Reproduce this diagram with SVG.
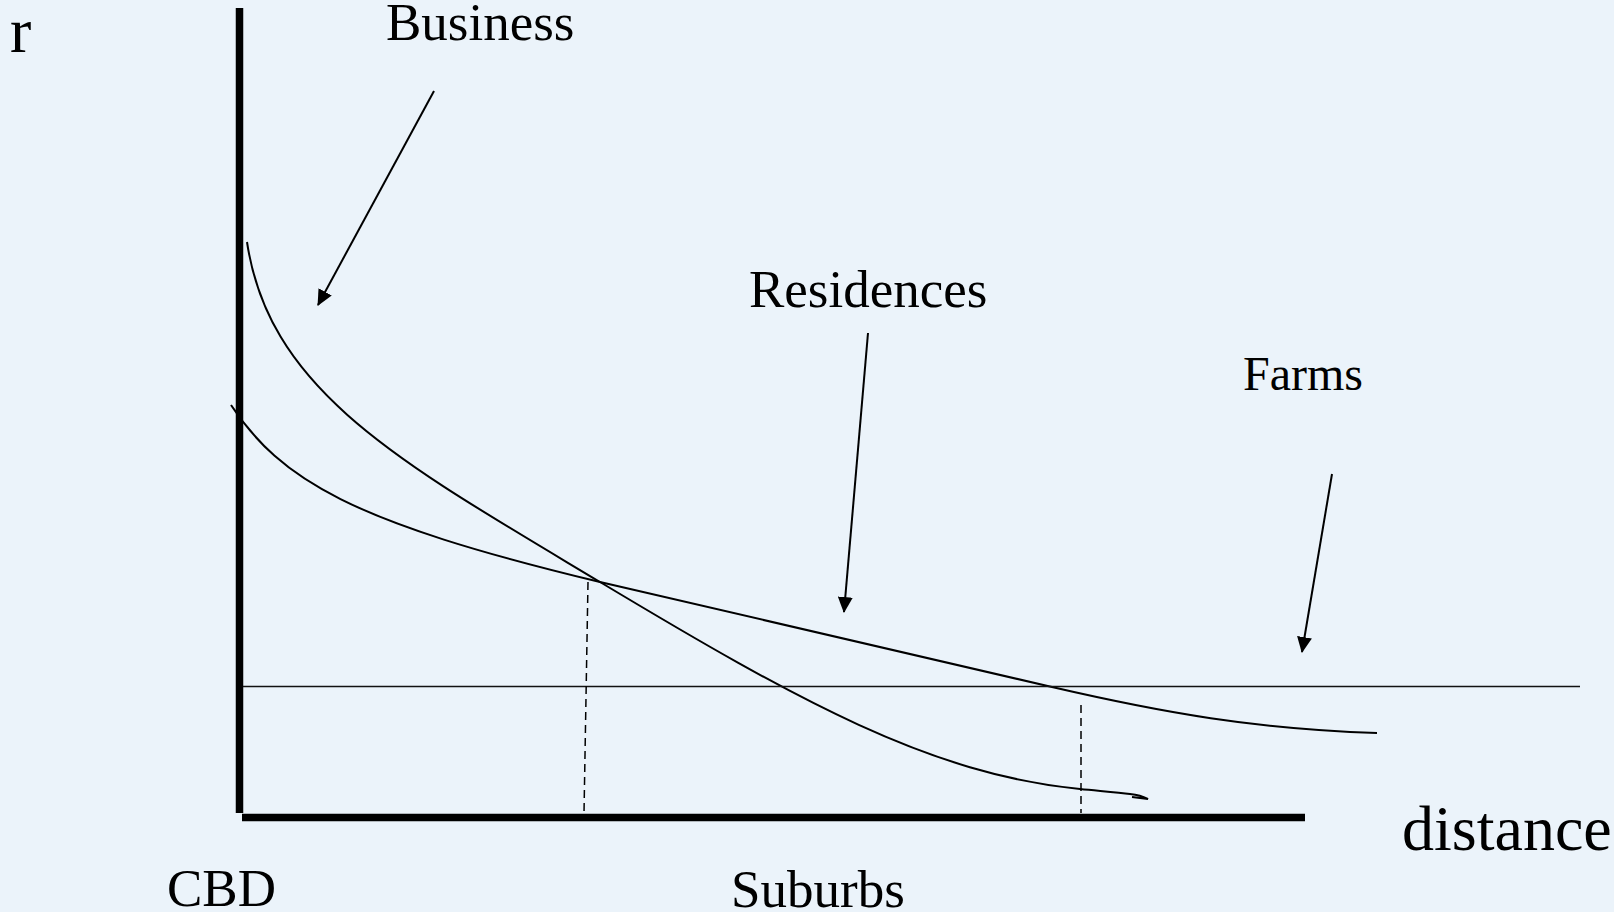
<svg xmlns="http://www.w3.org/2000/svg" width="1614" height="912" viewBox="0 0 1614 912">
<style>
.t{font-family:"Liberation Serif","Times New Roman",serif;fill:#000}
.curve{fill:none;stroke:#000;stroke-width:2}
.axis{stroke:#000;stroke-width:7.5}
.dash{stroke:#000;stroke-width:1.5;stroke-dasharray:8 5;fill:none}
.ptr{stroke:#000;stroke-width:2;fill:none}
</style>
<defs>
<marker id="ah" markerUnits="userSpaceOnUse" markerWidth="16" markerHeight="15" refX="15" refY="7.5" orient="auto">
<path d="M0,0 L16,7.5 L0,15 z" fill="#000"/>
</marker>
</defs>
<rect width="1614" height="912" fill="#EBF3FA"/>
<g id="axes">
<line class="axis" x1="239.5" y1="8" x2="239.5" y2="813"/>
<line class="axis" x1="242" y1="817.5" x2="1305" y2="817.5"/>
</g>
<g id="curves">
<path id="business-curve" class="curve" d="M247,242 C269.5,392 400,462 600,582 C800,702 930,774 1080,789 C1100,791 1118,792.5 1130,794 S1145,797.5 1148,799 L1132,797"/>
<path id="residence-curve" class="curve" d="M231,405 C281,480 350,522 600,582 L1052,687 C1162,712.5 1257,729.4 1377,733"/>
<line id="farm-line" x1="243" y1="686.5" x2="1580" y2="686.5" stroke="#111" stroke-width="1.5"/>
</g>
<g id="connectors">
<line class="dash" x1="588" y1="582" x2="584" y2="813"/>
<line class="dash" x1="1081" y1="705" x2="1081" y2="813"/>
<line class="ptr" x1="434" y1="91" x2="318" y2="305" marker-end="url(#ah)"/>
<line class="ptr" x1="868" y1="333" x2="844" y2="612" marker-end="url(#ah)"/>
<line class="ptr" x1="1332" y1="474" x2="1302" y2="652" marker-end="url(#ah)"/>
</g>
<g id="labels">
<text id="label-r" class="t" x="10" y="52" font-size="64">r</text>
<text id="label-business" class="t" x="386" y="40" font-size="53">Business</text>
<text id="label-residences" class="t" x="749" y="307" font-size="53">Residences</text>
<text id="label-farms" class="t" x="1243" y="390" font-size="48">Farms</text>
<text id="label-distance" class="t" x="1402" y="850" font-size="64">distance</text>
<text id="label-cbd" class="t" x="167" y="906" font-size="53">CBD</text>
<text id="label-suburbs" class="t" x="731" y="907" font-size="53">Suburbs</text>
</g>
</svg>
